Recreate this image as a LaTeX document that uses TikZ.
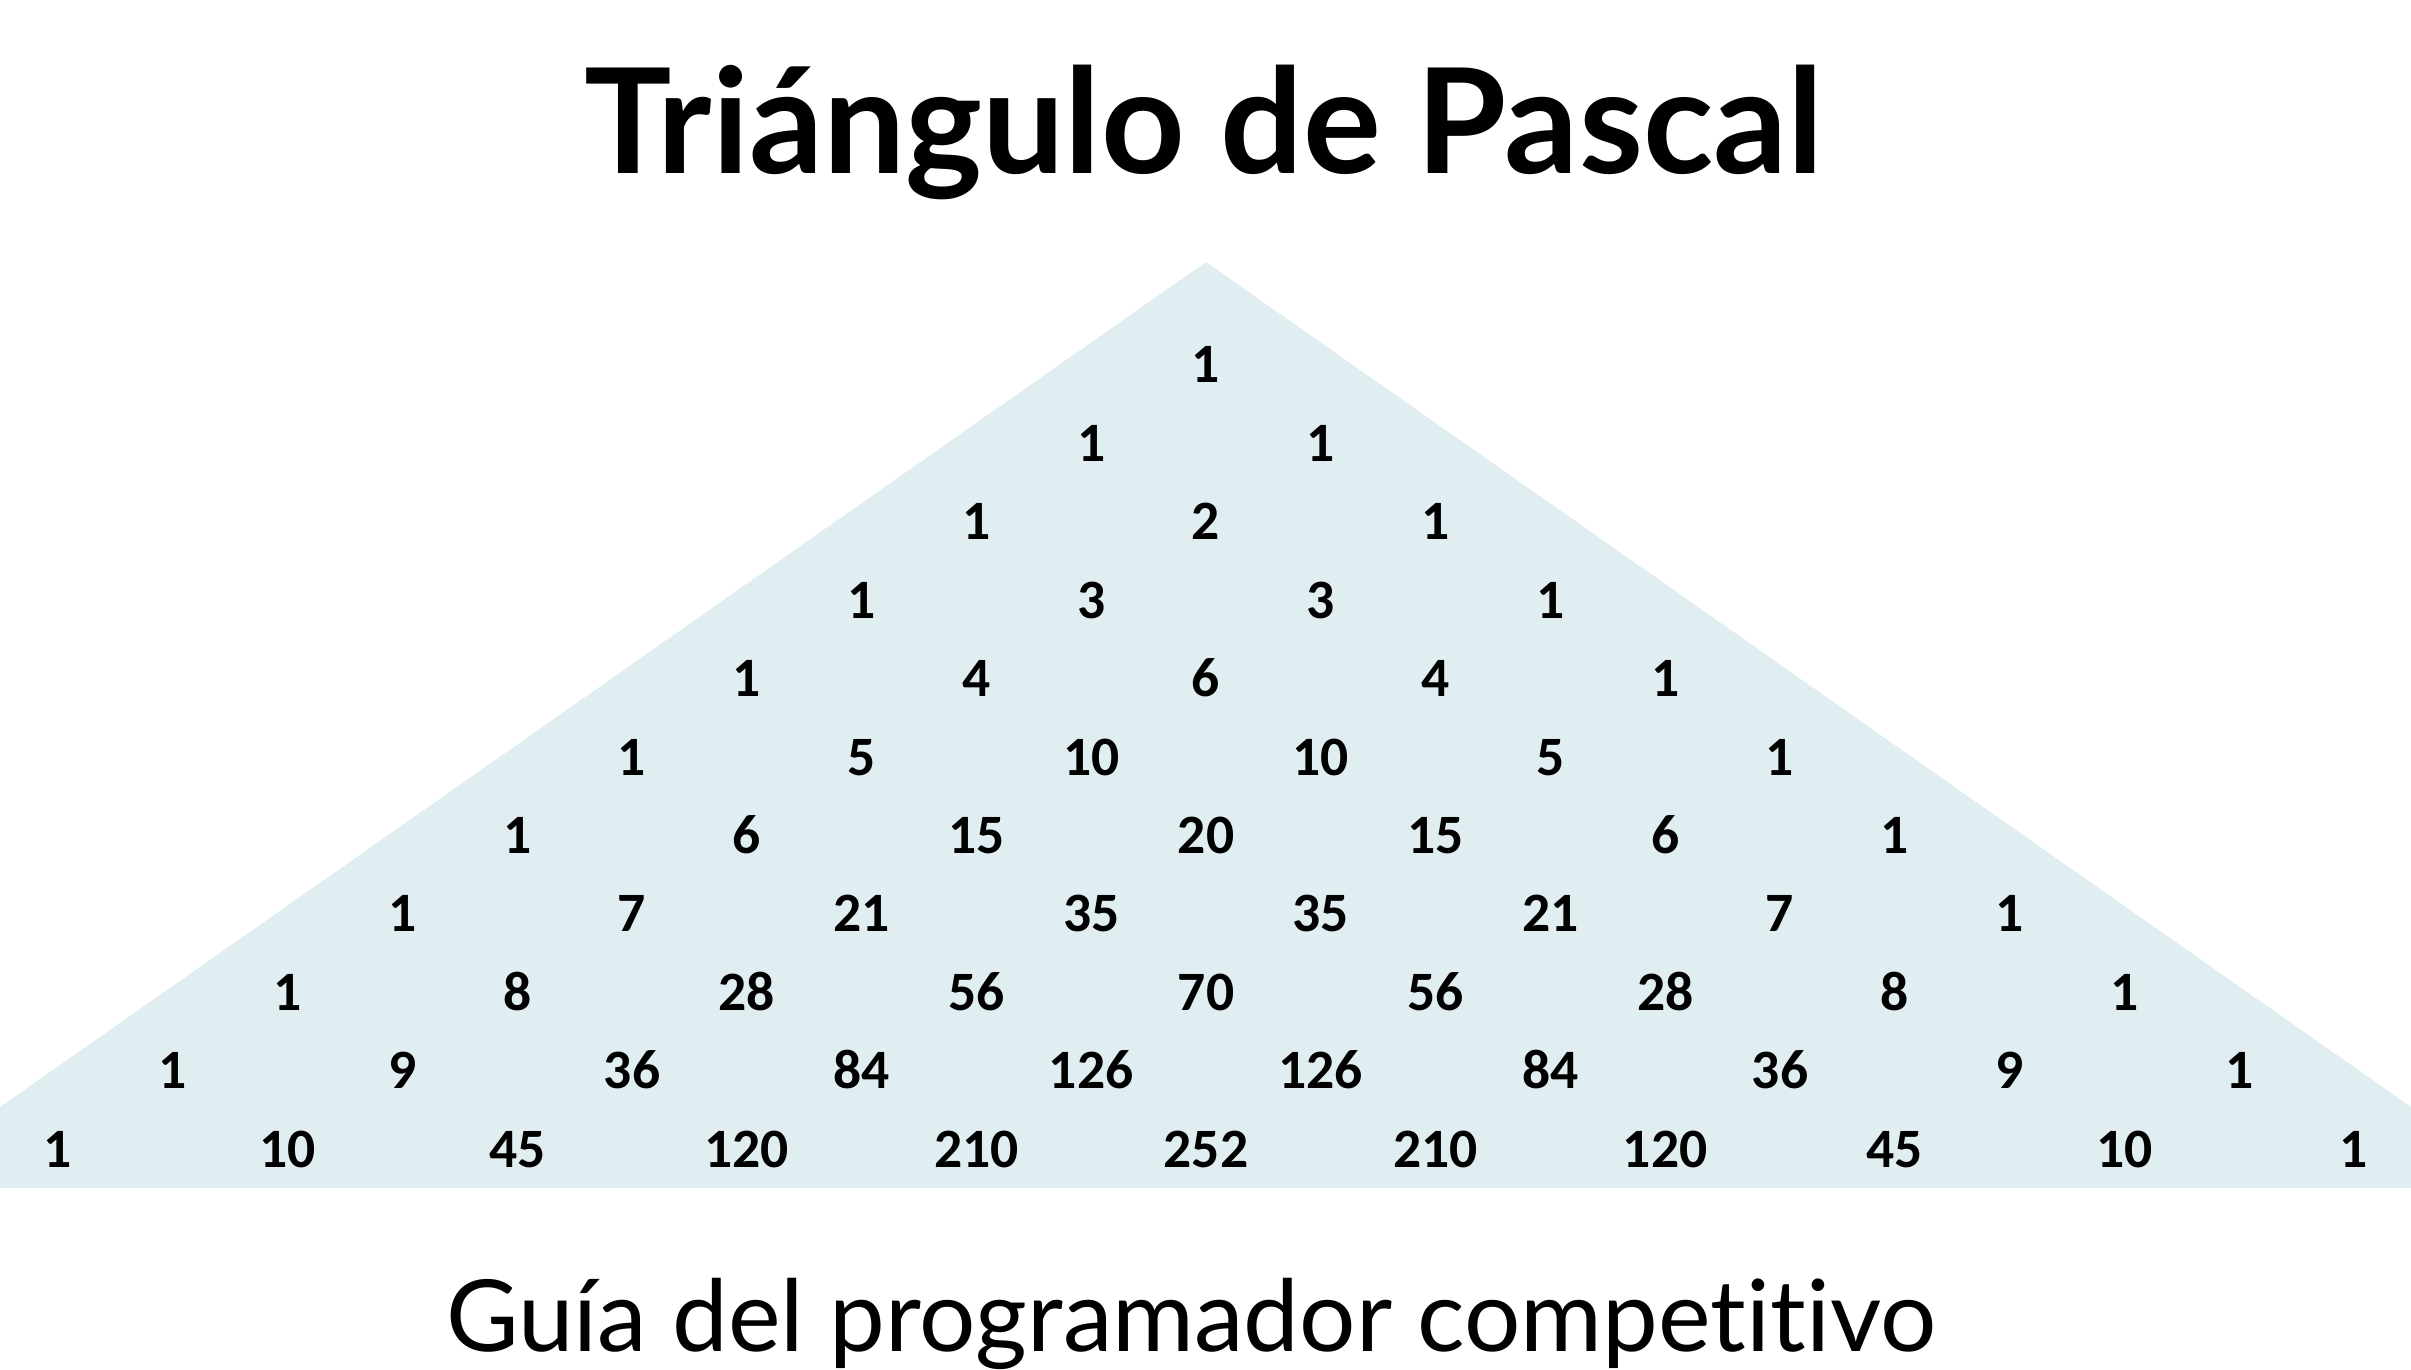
\documentclass[tikz,border=0pt]{standalone}
\usepackage{fontspec}
\setmainfont{Lato}[Ligatures=NoCommon]
\newfontfamily\numfont{Carlito}
\definecolor{trifill}{RGB}{224,237,241}
\tikzset{
  entry/.style={anchor=base, inner sep=0pt, font=\numfont\bfseries\fontsize{15.8}{18}\selectfont}
}
\begin{document}
\begin{tikzpicture}[x=0.01cm, y=-0.01cm]
\useasboundingbox (0, 0) rectangle (2411, 1370);
% Shade the triangle and the band below it.
\fill[trifill] (0, 1107) -- (1206, 262) -- (2411, 1107) -- (2411, 1188)
  -- (0, 1188) -- cycle;
% Title and subtitle.
\node[anchor=base, inner sep=0pt, font=\bfseries\fontsize{41.5}{48}\selectfont]
  (title) at (1204, 174) {Triángulo de Pascal};
\node[anchor=base, inner sep=0pt, font=\fontsize{28.3}{34}\selectfont]
  (subtitle) at (1191, 1351) {Guía del programador competitivo};
% Write the rows of the triangle.
\foreach \row/\vals in {0/{1}, 1/{1,1}, 2/{1,2,1}, 3/{1,3,3,1},
    4/{1,4,6,4,1}, 5/{1,5,10,10,5,1}, 6/{1,6,15,20,15,6,1},
    7/{1,7,21,35,35,21,7,1}, 8/{1,8,28,56,70,56,28,8,1},
    9/{1,9,36,84,126,126,84,36,9,1},
    10/{1,10,45,120,210,252,210,120,45,10,1}}
  \foreach \v [count=\k from 0] in \vals
    \node[entry] (n-\row-\k) at ({1206 + (2*\k - \row)*114.8}, {383 + 78.4*\row}) {\v};
\end{tikzpicture}
\end{document}
